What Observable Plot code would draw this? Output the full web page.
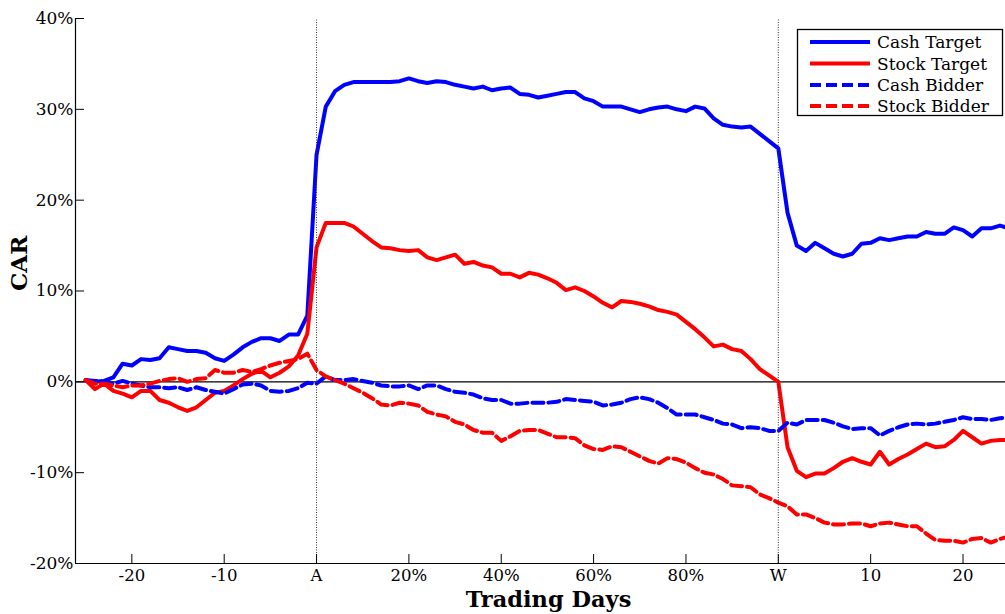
<!DOCTYPE html>
<html><head><meta charset="utf-8">
<script src="https://cdn.jsdelivr.net/npm/d3@7"></script>
<script src="https://cdn.jsdelivr.net/npm/@observablehq/plot@0.6"></script>
<style>body{margin:0;background:#fff;} svg{display:block}</style>
</head><body><div id="chart"></div>
<script>
// Phases: pre-announcement days, event window (% of A→W), post-withdrawal days
const preDays = d3.range(-25, 0);          // -25 .. -1
const eventPct = d3.range(0, 101, 2);      // 0% .. 100%
const postDays = d3.range(1, 26);          // 1 .. 25

const cashTargetPre = [0.1, 0.0, 0.1, 0.5, 2.0, 1.8, 2.5, 2.4, 2.6, 3.8, 3.6, 3.4, 3.4, 3.2, 2.6, 2.3, 3.0, 3.8, 4.4, 4.8, 4.8, 4.5, 5.2, 5.2, 7.3];
const cashTargetEvent = [25.0, 30.3, 32.0, 32.7, 33.0, 33.0, 33.0, 33.0, 33.0, 33.1, 33.4, 33.1, 32.9, 33.1, 33.0, 32.7, 32.5, 32.3, 32.5, 32.1, 32.3, 32.4, 31.7, 31.6, 31.3, 31.5, 31.7, 31.9, 31.9, 31.2, 30.9, 30.3, 30.3, 30.3, 30.0, 29.7, 30.0, 30.2, 30.3, 30.0, 29.8, 30.3, 30.1, 29.0, 28.3, 28.1, 28.0, 28.1, 27.3, 26.5, 25.7];
const cashTargetPost = [18.6, 15.0, 14.4, 15.3, 14.7, 14.1, 13.8, 14.1, 15.2, 15.3, 15.8, 15.6, 15.8, 16.0, 16.0, 16.5, 16.3, 16.3, 17.0, 16.7, 16.0, 16.9, 16.9, 17.2, 16.9];

const stockTargetPre = [0.2, -0.8, -0.2, -1.0, -1.3, -1.7, -1.0, -1.0, -2.0, -2.3, -2.8, -3.2, -2.8, -2.0, -1.2, -1.0, -0.4, 0.3, 0.9, 1.2, 0.5, 1.0, 1.7, 2.9, 5.3];
const stockTargetEvent = [14.8, 17.5, 17.5, 17.5, 17.1, 16.3, 15.5, 14.8, 14.7, 14.5, 14.4, 14.5, 13.7, 13.4, 13.7, 14.0, 13.0, 13.2, 12.8, 12.6, 11.9, 11.9, 11.5, 12.0, 11.8, 11.4, 10.9, 10.1, 10.4, 10.0, 9.4, 8.7, 8.2, 8.9, 8.8, 8.6, 8.3, 7.9, 7.7, 7.4, 6.6, 5.8, 4.9, 3.9, 4.1, 3.6, 3.4, 2.5, 1.4, 0.7, 0.0];
const stockTargetPost = [-7.2, -9.8, -10.5, -10.1, -10.1, -9.5, -8.8, -8.4, -8.8, -9.1, -7.7, -9.1, -8.5, -8.0, -7.4, -6.8, -7.2, -7.1, -6.4, -5.4, -6.1, -6.8, -6.5, -6.4, -6.4];

const cashBidderPre = [0.2, 0.1, 0.0, -0.2, 0.1, -0.2, -0.4, -0.6, -0.6, -0.7, -0.6, -0.9, -0.6, -0.9, -1.1, -1.3, -0.8, -0.3, -0.2, -0.4, -1.0, -1.1, -1.0, -0.7, -0.1];
const cashBidderEvent = [-0.2, 0.6, 0.2, 0.2, 0.3, 0.1, -0.1, -0.4, -0.5, -0.5, -0.4, -0.8, -0.4, -0.4, -0.8, -1.1, -1.2, -1.4, -1.8, -2.0, -2.0, -2.4, -2.4, -2.3, -2.3, -2.3, -2.2, -1.9, -2.0, -2.1, -2.2, -2.6, -2.5, -2.3, -1.9, -1.7, -1.9, -2.3, -2.9, -3.6, -3.6, -3.6, -3.9, -4.2, -4.6, -4.7, -5.1, -5.0, -5.1, -5.4, -5.4];
const cashBidderPost = [-4.5, -4.7, -4.2, -4.2, -4.2, -4.5, -4.9, -5.2, -5.1, -5.1, -5.9, -5.4, -5.0, -4.7, -4.6, -4.7, -4.6, -4.4, -4.2, -3.9, -4.1, -4.1, -4.2, -4.0, -3.9];

const stockBidderPre = [0.2, -0.2, -0.2, -0.4, -0.6, -0.4, -0.4, -0.2, 0.1, 0.3, 0.4, 0.0, 0.3, 0.4, 1.3, 1.0, 1.0, 1.3, 1.1, 1.4, 1.8, 2.1, 2.3, 2.5, 3.1];
const stockBidderEvent = [1.3, 0.6, 0.2, -0.2, -0.7, -1.2, -1.8, -2.5, -2.6, -2.3, -2.4, -2.6, -3.3, -3.6, -3.8, -4.4, -4.7, -5.3, -5.6, -5.6, -6.5, -6.0, -5.4, -5.3, -5.3, -5.7, -6.1, -6.1, -6.2, -7.0, -7.4, -7.5, -7.1, -7.2, -7.7, -8.2, -8.7, -9.0, -8.4, -8.5, -8.9, -9.5, -10.0, -10.2, -10.7, -11.4, -11.5, -11.6, -12.4, -12.8, -13.3];
const stockBidderPost = [-13.7, -14.6, -14.6, -15.0, -15.5, -15.7, -15.7, -15.6, -15.6, -15.9, -15.6, -15.5, -15.7, -15.9, -15.9, -16.7, -17.4, -17.5, -17.5, -17.7, -17.3, -17.2, -17.7, -17.3, -17.0];

const seriesNames = ["Cash Target", "Stock Target", "Cash Bidder", "Stock Bidder"];
const seriesColors = ["#0000ff", "#ff0000", "#0000ff", "#ff0000"];
const seriesDash = [null, null, "11,5", "11,5"];

const xTickPositions = [-2, -1, 0, 1, 2, 3, 4, 5, 6, 7];
const xTickLabels = ["-20", "-10", "A", "20%", "40%", "60%", "80%", "W", "10", "20"];
const yTicks = [-20, -10, 0, 10, 20, 30, 40];

// composite axis: 1 unit = 10 trading days = 20% of the event window
const posPre = d => d / 10, posEvent = p => p / 20, posPost = d => 5 + d / 10;

function build(pre, ev, post) {
  return [
    ...preDays.map((d, i) => ({x: posPre(d), v: pre[i]})),
    ...eventPct.map((p, i) => ({x: posEvent(p), v: ev[i]})),
    ...postDays.map((d, i) => ({x: posPost(d), v: post[i]}))
  ];
}
const seriesData = [
  build(cashTargetPre, cashTargetEvent, cashTargetPost),
  build(stockTargetPre, stockTargetEvent, stockTargetPost),
  build(cashBidderPre, cashBidderEvent, cashBidderPost),
  build(stockBidderPre, stockBidderEvent, stockBidderPost)
];

const xDomain = [-2.61, 7.46], yDomain = [-20, 40];
const W = 1005, H = 614, mL = 75, mR = 0, mT = 18, mB = 51;
const pxPerX = (W - mL - mR) / (xDomain[1] - xDomain[0]);
const pxPerY = (H - mT - mB) / (yDomain[1] - yDomain[0]);
const tick = 9;

const font = "'DejaVu Serif', 'Liberation Serif', serif";

const plot = Plot.plot({
  width: W, height: H,
  marginLeft: mL, marginRight: mR, marginTop: mT, marginBottom: mB,
  x: {domain: xDomain, axis: null},
  y: {domain: yDomain, axis: null},
  style: {fontFamily: font, fontSize: "17px", background: "white", color: "black"},
  marks: [
    Plot.ruleY([0], {stroke: "black", strokeWidth: 1.3}),
    ...seriesData.map((data, i) => Plot.line(data, {
      x: "x", y: "v", stroke: seriesColors[i], strokeWidth: 4,
      strokeDasharray: seriesDash[i], strokeLinejoin: "round", clip: true
    })),
    Plot.ruleX([posEvent(0), posEvent(100)], {y1: yDomain[0], y2: yDomain[1], stroke: "#333", strokeWidth: 1, strokeDasharray: "1,1.5"}),
    // axis lines
    Plot.ruleX([xDomain[0]], {y1: yDomain[0], y2: yDomain[1], stroke: "black", strokeWidth: 1.2}),
    Plot.ruleY([yDomain[0]], {stroke: "black", strokeWidth: 1.2}),
    // inward ticks
    Plot.ruleY(yTicks, {x1: xDomain[0], x2: xDomain[0] + tick / pxPerX, stroke: "black"}),
    Plot.ruleX(xTickPositions, {y1: yDomain[0], y2: yDomain[0] + tick / pxPerY, stroke: "black"}),
    // tick labels
    Plot.text(yTicks, {x: xDomain[0], y: d => d, text: d => `${d}%`, textAnchor: "end", dx: -2, fontSize: 17}),
    Plot.text(xTickPositions, {x: d => d, y: yDomain[0], text: (d, i) => xTickLabels[i], dy: 12, fontSize: 16.5}),
    // axis titles
    Plot.text(["Trading Days"], {frameAnchor: "bottom", dx: 8, dy: 43, fontSize: 22.5, fontWeight: "bold"}),
    Plot.text(["CAR"], {frameAnchor: "left", dx: -56, rotate: -90, fontSize: 23, fontWeight: "bold", letterSpacing: 2})
  ]
});

document.getElementById("chart").appendChild(plot);

// legend
const svg = d3.select(plot);
const lg = svg.append("g").attr("font-family", font).attr("font-size", 17).attr("text-anchor", "start");
lg.append("rect").attr("x", 797.5).attr("y", 29.5).attr("width", 205).attr("height", 86)
  .attr("fill", "white").attr("stroke", "black").attr("stroke-width", 1.3);
const rowY = [42, 63.5, 85, 106];
seriesNames.forEach((name, i) => {
  lg.append("line").attr("x1", 810).attr("x2", 870).attr("y1", rowY[i]).attr("y2", rowY[i])
    .attr("stroke", seriesColors[i]).attr("stroke-width", 4)
    .attr("stroke-dasharray", seriesDash[i] || null);
  lg.append("text").attr("x", 877).attr("y", rowY[i]).attr("dy", "0.36em").attr("fill", "black").text(name);
});
</script></body></html>
